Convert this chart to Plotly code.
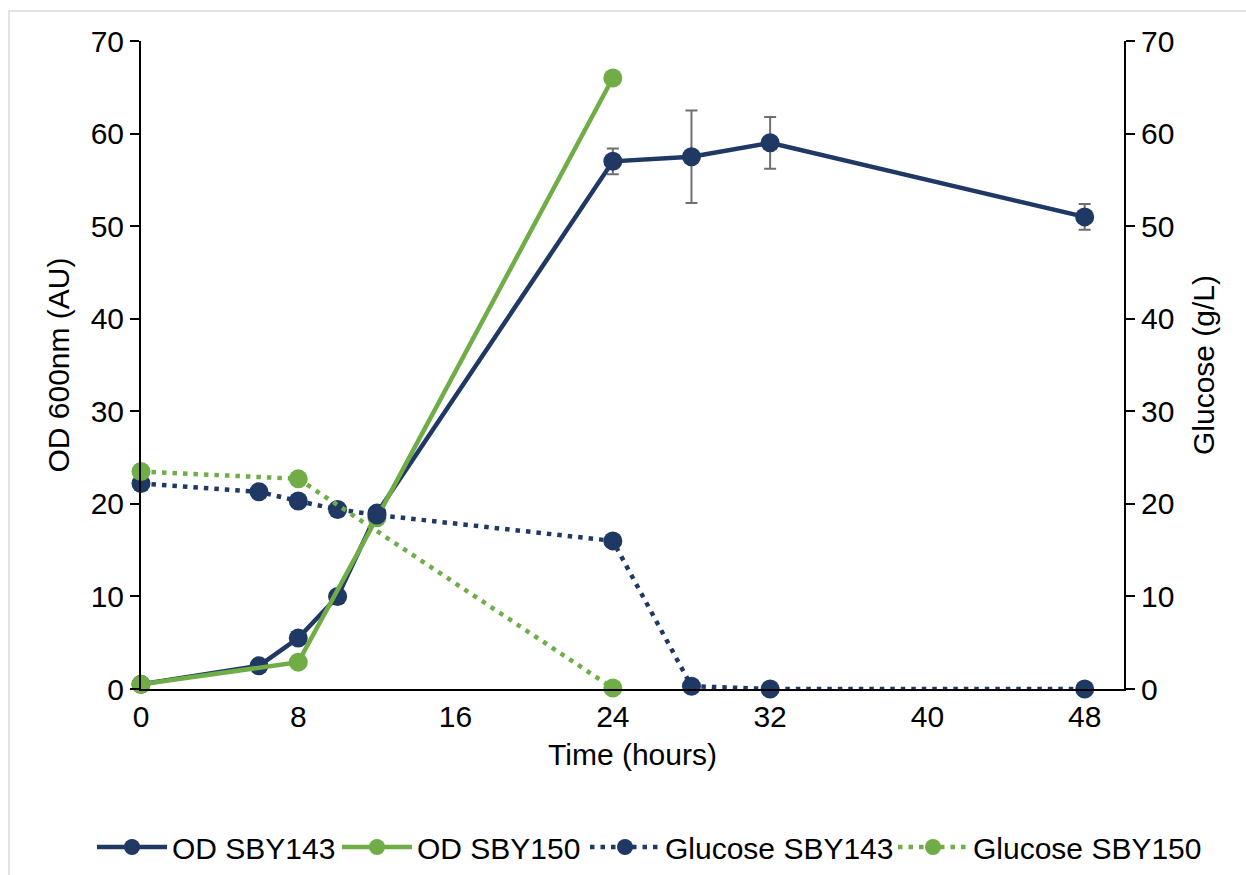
import plotly.graph_objects as go

# Sampling times (hours)
time_143 = [0, 6, 8, 10, 12, 24, 28, 32, 48]
time_150 = [0, 8, 12, 24]

# Optical density at 600 nm
od_143 = [0.5, 2.5, 5.5, 10.0, 19.0, 57.0, 57.5, 59.0, 51.0]
od_143_err = [0, 0, 0, 0, 0, 1.4, 5.0, 2.8, 1.4]
od_150 = [0.5, 2.9, 18.5, 66.0]

# Residual glucose (g/L)
glc_143 = [22.2, 21.3, 20.3, 19.4, 18.8, 16.0, 0.3, 0.0, 0.0]
glc_150 = [23.5, 22.7, 0.1]
time_glc_150 = [0, 8, 24]

x_ticks = [0, 8, 16, 24, 32, 40, 48]
y_ticks = [0, 10, 20, 30, 40, 50, 60, 70]

NAVY = "#203864"
GREEN = "#70AD47"
FONT = "Liberation Sans, Arial, sans-serif"
FS = 30
W, H = 1246, 875

fig = go.Figure()

fig.add_trace(go.Scatter(
    x=time_143, y=od_143, name="OD SBY143", mode="lines+markers",
    line=dict(color=NAVY, width=4.5), marker=dict(color=NAVY, size=19),
    error_y=dict(type="data", array=od_143_err, visible=True,
                 color="#6f6f6f", thickness=2, width=6),
    cliponaxis=False, legend="legend",
))
fig.add_trace(go.Scatter(
    x=time_150, y=od_150, name="OD SBY150", mode="lines+markers",
    line=dict(color=GREEN, width=4.5), marker=dict(color=GREEN, size=19),
    cliponaxis=False, legend="legend2",
))
fig.add_trace(go.Scatter(
    x=time_143, y=glc_143, name="Glucose SBY143", mode="lines+markers",
    line=dict(color=NAVY, width=4.5, dash="4.5px,6px"),
    marker=dict(color=NAVY, size=19), yaxis="y2",
    cliponaxis=False, legend="legend3",
))
fig.add_trace(go.Scatter(
    x=time_glc_150, y=glc_150, name="Glucose SBY150", mode="lines+markers",
    line=dict(color=GREEN, width=4.5, dash="4.5px,6px"),
    marker=dict(color=GREEN, size=19), yaxis="y2",
    cliponaxis=False, legend="legend4",
))

axis_font = dict(family=FONT, size=FS, color="#000000")


def legend_at(left_px, center_py):
    # one legend entry placed in container pixels
    return dict(
        orientation="h", xref="container", yref="container",
        x=left_px / W, xanchor="left", y=1 - center_py / H, yanchor="middle",
        font=axis_font, itemwidth=70, bgcolor="rgba(0,0,0,0)", borderwidth=0,
    )


fig.update_layout(
    width=W, height=H,
    margin=dict(l=141, r=122, t=41, b=186, autoexpand=False),
    paper_bgcolor="white", plot_bgcolor="white",
    font=axis_font,
    xaxis=dict(
        range=[0, 50], tickmode="array", tickvals=x_ticks,
        showgrid=False, zeroline=False, showline=True, linecolor="#000000",
        linewidth=2, ticks="", tickfont=axis_font,
        title=dict(text="Time (hours)", font=axis_font, standoff=12),
    ),
    yaxis=dict(
        range=[0, 70], tickmode="array", tickvals=y_ticks,
        showgrid=False, zeroline=False, showline=True, linecolor="#000000",
        linewidth=2, ticks="outside", ticklen=9, tickwidth=2, tickcolor="#000000",
        tickfont=axis_font,
        title=dict(text="OD 600nm (AU)", font=axis_font, standoff=12),
    ),
    yaxis2=dict(
        range=[0, 70], tickmode="array", tickvals=y_ticks,
        overlaying="y", side="right", anchor="x",
        showgrid=False, zeroline=False, showline=True, linecolor="#000000",
        linewidth=2, ticks="outside", ticklen=9, tickwidth=2, tickcolor="#000000",
        tickfont=axis_font,
        title=dict(text="Glucose (g/L)", font=axis_font, standoff=20),
    ),
    legend=legend_at(92, 847),
    legend2=legend_at(337, 847),
    legend3=legend_at(585, 847),
    legend4=legend_at(893, 847),
    showlegend=True,
    shapes=[dict(
        type="rect", xref="paper", yref="paper",
        x0=-0.1343, x1=1.15, y0=-0.35, y1=1.0463,
        line=dict(color="#d9d9d9", width=1.5), fillcolor="rgba(0,0,0,0)",
        layer="below",
    )],
)

fig.write_html("out.html")
